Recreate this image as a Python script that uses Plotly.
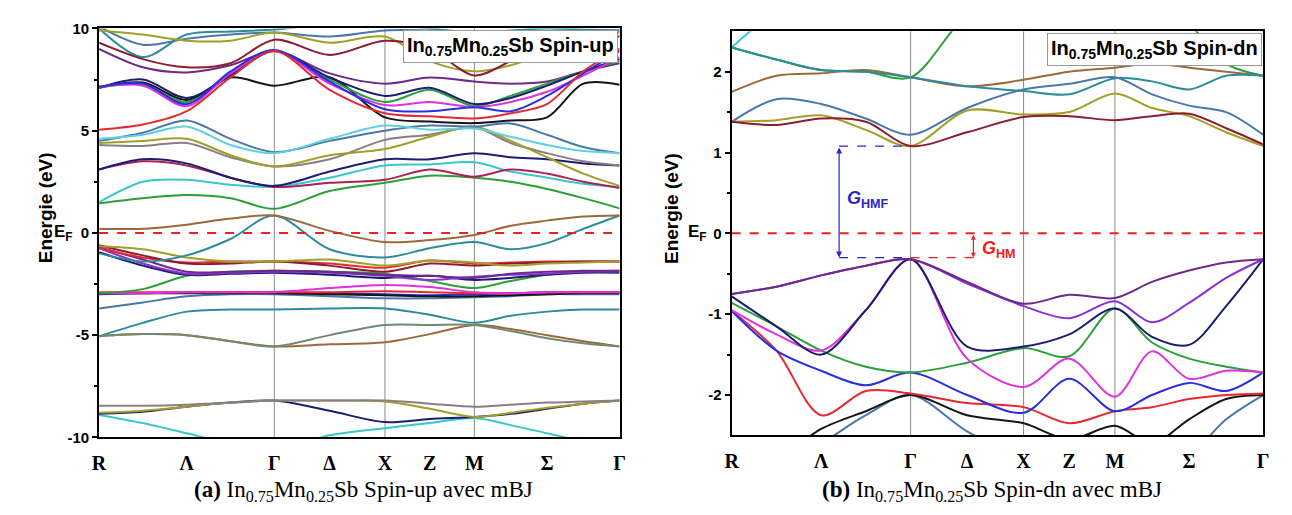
import plotly.graph_objects as go

# ---------------- k-path (R - Γ - X - M - Γ), simple cubic ----------------
k_high = [0.0, 0.866, 1.413, 1.855, 2.573]          # R, Γ, X, M, Γ
k_label_pos = [0.0, 0.433, 0.866, 1.1395, 1.413, 1.634, 1.855, 2.214, 2.573]
k_labels = ["R", "Λ", "Γ", "Δ", "X", "Z", "M", "Σ", "Γ"]
# sample points: R,q1,q2,q3,Γ,Δ,X,Z,M,s1,s2,s3,Γ
k_pts = [0.0, 0.2165, 0.433, 0.6495, 0.866, 1.1395, 1.413, 1.634, 1.855,
         2.0345, 2.214, 2.3935, 2.573]

# ---------------- Spin-up bands (eV) ----------------
up_low_cyan = [-8.9, -9.3, -9.8, -10.3, -10.6, -9.9, -9.55, -9.3, -9.05, -9.4, -9.8, -10.2, -10.6]
up_low_olive = [-8.8, -8.7, -8.5, -8.3, -8.2, -8.2, -8.25, -8.6, -9.0, -8.8, -8.55, -8.35, -8.2]
up_low_gray = [-8.45, -8.45, -8.4, -8.3, -8.2, -8.2, -8.2, -8.35, -8.5, -8.4, -8.3, -8.25, -8.2]
up_low_navy = [-8.85, -8.75, -8.5, -8.3, -8.2, -8.7, -9.25, -9.1, -9.0, -8.85, -8.6, -8.35, -8.2]
up_s_teal = [-5.05, -4.4, -3.85, -3.75, -3.75, -3.7, -3.7, -4.0, -4.4, -4.05, -3.85, -3.75, -3.75]
up_s_graygreen = [-5.05, -4.95, -5.0, -5.3, -5.55, -5.0, -4.5, -4.5, -4.5, -4.8, -5.15, -5.4, -5.55]
up_s_brown = [-5.05, -4.95, -5.0, -5.3, -5.55, -5.45, -5.35, -4.95, -4.5, -4.7, -5.0, -5.3, -5.55]
up_d_teal = [-3.7, -3.4, -3.1, -3.0, -3.0, -3.1, -3.2, -3.2, -3.15, -3.1, -3.0, -3.0, -3.0]
up_d_blue = [-3.0, -2.95, -2.9, -2.9, -2.9, -2.95, -3.0, -3.05, -3.0, -2.95, -2.9, -2.9, -2.9]
up_d_black = [-2.95, -2.95, -2.95, -2.95, -2.95, -3.0, -3.05, -3.1, -3.1, -3.05, -3.0, -2.95, -2.95]
up_d_red = [-2.9, -2.9, -2.9, -2.9, -2.9, -2.9, -2.85, -2.9, -2.95, -2.95, -2.9, -2.9, -2.9]
up_d_magenta = [-2.95, -2.95, -2.9, -2.9, -2.9, -2.7, -2.55, -2.65, -2.9, -2.95, -2.9, -2.9, -2.9]
up_d_green = [-2.95, -2.75, -2.1, -1.9, -1.85, -1.9, -2.0, -2.35, -2.7, -2.35, -2.05, -1.9, -1.85]
up_v_navy = [-0.95, -1.6, -2.05, -2.0, -1.95, -2.05, -2.2, -2.1, -2.3, -2.2, -2.05, -1.95, -1.95]
up_v_violet = [-0.75, -1.5, -2.0, -1.95, -1.9, -1.95, -2.1, -2.3, -2.15, -2.05, -2.0, -1.9, -1.9]
up_v_purple = [-0.7, -1.3, -1.9, -1.9, -1.85, -1.9, -2.05, -2.1, -2.2, -2.0, -1.9, -1.85, -1.85]
up_v_red = [-0.75, -1.2, -1.45, -1.4, -1.4, -1.5, -1.7, -1.35, -1.5, -1.45, -1.4, -1.4, -1.4]
up_v_maroon = [-0.6, -1.1, -1.5, -1.5, -1.4, -1.6, -1.9, -1.5, -1.6, -1.5, -1.45, -1.4, -1.4]
up_v_olive = [-0.65, -0.8, -1.2, -1.4, -1.4, -1.3, -1.6, -1.35, -1.45, -1.6, -1.5, -1.45, -1.4]
up_v_teal = [-1.0, -1.4, -1.1, -0.3, 0.85, -0.8, -1.2, -0.75, -0.45, -0.8, -0.5, 0.2, 0.85]
up_v_brown = [0.2, 0.2, 0.4, 0.7, 0.85, 0.1, -0.45, -0.35, -0.1, 0.35, 0.6, 0.8, 0.85]
up_c_green = [1.45, 1.7, 1.85, 1.7, 1.18, 2.05, 2.45, 2.8, 2.7, 2.5, 2.15, 1.7, 1.2]
up_c_cyan = [1.5, 2.5, 2.6, 2.35, 2.25, 2.7, 3.3, 3.35, 3.45, 3.0, 2.7, 2.4, 2.25]
up_c_crimson = [3.1, 3.5, 3.3, 2.7, 2.25, 2.45, 2.6, 3.1, 2.75, 3.1, 2.9, 2.5, 2.2]
up_c_navy = [3.1, 3.6, 3.4, 2.7, 2.3, 3.0, 3.6, 3.6, 3.9, 3.7, 3.6, 3.4, 3.3]
up_c_gray = [4.3, 4.25, 4.4, 3.7, 3.25, 3.6, 4.55, 4.8, 5.15, 4.4, 3.9, 3.5, 3.3]
up_c_olive = [4.4, 4.5, 4.6, 3.8, 3.25, 3.8, 4.1, 4.7, 5.2, 4.5, 3.7, 2.9, 2.3]
up_c_steel = [4.5, 4.9, 5.5, 4.6, 3.95, 4.5, 5.0, 5.25, 5.2, 5.35, 4.8, 4.2, 3.9]
up_c_lightcyan = [4.6, 4.8, 5.2, 4.3, 3.9, 4.6, 5.25, 5.05, 5.1, 4.7, 4.3, 4.0, 3.9]
up_c_red = [5.05, 5.3, 5.95, 7.6, 8.9, 7.0, 5.85, 5.7, 5.6, 5.85, 6.3, 7.9, 9.0]
up_c_black = [7.1, 7.35, 6.5, 7.6, 7.2, 7.6, 5.65, 5.45, 5.37, 5.5, 5.65, 7.3, 7.25]
up_c_green2 = [7.1, 7.25, 6.4, 7.7, 8.9, 7.5, 6.4, 7.0, 6.2, 6.7, 7.3, 7.9, 8.4]
up_c_magenta = [7.15, 7.2, 6.2, 7.8, 8.9, 7.3, 6.25, 6.4, 6.15, 6.4, 6.9, 7.7, 8.6]
up_c_navy2 = [7.1, 7.5, 6.6, 7.7, 8.9, 7.6, 6.7, 7.1, 6.3, 6.6, 7.2, 7.9, 8.5]
up_c_blue = [7.15, 7.3, 6.3, 7.9, 8.95, 7.4, 6.05, 5.95, 6.15, 5.95, 6.7, 7.8, 8.9]
up_c_purple = [9.0, 8.1, 7.85, 8.2, 8.9, 7.8, 7.3, 7.6, 7.4, 7.3, 7.4, 7.9, 8.3]
up_c_maroon = [9.3, 8.5, 8.1, 8.3, 9.45, 8.7, 9.4, 9.0, 7.7, 8.4, 9.2, 9.6, 9.6]
up_c_olive2 = [9.9, 9.7, 9.4, 9.4, 9.8, 9.3, 9.6, 8.4, 7.9, 8.2, 8.8, 9.4, 9.8]
up_c_teal1 = [10.0, 8.6, 9.7, 9.85, 9.95, 10.2, 10.2, 10.0, 9.8, 9.9, 10.0, 9.95, 9.9]
up_c_teal2 = [10.1, 9.2, 9.5, 9.7, 9.8, 9.6, 9.9, 9.9, 9.8, 9.7, 9.8, 9.9, 9.9]

# ---------------- Spin-down bands (eV) ----------------
dn_c_cyan = [2.3, 2.75, 3.0, 3.0, 3.0, 3.0, 3.0, 3.0, 3.0, 3.0, 3.0, 3.0, 3.0]
dn_c_green = [2.3, 2.15, 2.02, 2.0, 1.93, 2.7, 3.0, 3.0, 3.0, 3.0, 2.6, 2.1, 1.95]
dn_c_brown = [1.75, 1.95, 1.98, 2.02, 1.93, 1.82, 1.90, 2.0, 2.05, 2.1, 2.05, 2.0, 1.95]
dn_c_teal = [2.3, 2.15, 2.02, 2.0, 1.93, 1.82, 1.76, 1.72, 1.92, 1.88, 1.78, 1.95, 1.95]
dn_c_steel = [1.38, 1.66, 1.60, 1.42, 1.22, 1.55, 1.78, 1.85, 1.93, 1.72, 1.58, 1.50, 1.22]
dn_c_olive = [1.38, 1.40, 1.46, 1.28, 1.08, 1.52, 1.47, 1.50, 1.73, 1.55, 1.45, 1.25, 1.08]
dn_c_maroon = [1.38, 1.34, 1.42, 1.38, 1.08, 1.25, 1.44, 1.45, 1.40, 1.45, 1.48, 1.30, 1.10]
dn_v_steel = [-3.2, -2.9, -2.6, -2.25, -2.0, -2.45, -2.8, -3.0, -3.0, -2.9, -2.75, -2.3, -2.0]
dn_v_black = [-3.0, -2.8, -2.42, -2.2, -2.0, -2.25, -2.35, -2.55, -2.38, -2.6, -2.3, -2.05, -2.0]
dn_v_red = [-0.96, -1.45, -2.25, -1.95, -1.98, -2.10, -2.15, -2.35, -2.20, -2.15, -2.05, -2.00, -1.98]
dn_v_blue = [-0.96, -1.45, -1.70, -1.88, -1.72, -2.00, -2.22, -1.80, -2.20, -2.00, -1.85, -1.95, -1.72]
dn_v_green = [-0.86, -1.15, -1.45, -1.65, -1.72, -1.60, -1.42, -1.52, -0.93, -1.35, -1.55, -1.65, -1.72]
dn_v_magenta = [-0.95, -1.25, -1.45, -0.95, -0.32, -1.55, -1.90, -1.55, -2.02, -1.46, -1.80, -1.70, -1.72]
dn_v_navy = [-0.78, -1.15, -1.50, -0.95, -0.32, -1.40, -1.40, -1.25, -0.93, -1.28, -1.38, -0.90, -0.32]
dn_v_violet = [-0.75, -0.66, -0.52, -0.40, -0.32, -0.62, -0.90, -1.05, -0.84, -1.10, -0.86, -0.55, -0.32]
dn_v_purple = [-0.75, -0.66, -0.52, -0.40, -0.32, -0.60, -0.87, -0.76, -0.80, -0.60, -0.46, -0.36, -0.32]

# gap markers (eV)
E_F = 0.0
cbm_dn = 1.08
vbm_dn = -0.30
k_arrow_hmf = 0.52
k_arrow_hm = 1.17

C = dict(black="#151515", red="#e82830", blue="#2a30e0", green="#2aa038", magenta="#e030e0",
         olive="#a0a028", navy="#1c1c72", purple="#6e2a8a", maroon="#8c1c30", teal="#2a8c9c",
         gray="#8c7c88", cyan="#38c8cc", steel="#4a78a8", brown="#9c6a3a", violet="#8a30d8",
         crimson="#b02058", lightcyan="#60d0e0", graygreen="#708a70")

up_bands = [
    (up_low_cyan, "cyan"), (up_low_navy, "navy"), (up_low_olive, "olive"), (up_low_gray, "gray"),
    (up_s_teal, "teal"), (up_s_brown, "brown"), (up_s_graygreen, "graygreen"),
    (up_d_teal, "steel"), (up_d_blue, "blue"), (up_d_black, "black"), (up_d_red, "red"),
    (up_d_magenta, "magenta"), (up_d_green, "green"),
    (up_v_navy, "navy"), (up_v_violet, "violet"), (up_v_purple, "purple"), (up_v_red, "red"),
    (up_v_maroon, "maroon"), (up_v_olive, "olive"), (up_v_teal, "teal"), (up_v_brown, "brown"),
    (up_c_green, "green"), (up_c_cyan, "cyan"), (up_c_crimson, "crimson"), (up_c_navy, "navy"),
    (up_c_gray, "gray"), (up_c_olive, "olive"), (up_c_steel, "steel"), (up_c_lightcyan, "lightcyan"),
    (up_c_teal1, "teal"), (up_c_teal2, "steel"), (up_c_olive2, "olive"),
    (up_c_purple, "purple"), (up_c_maroon, "maroon"), (up_c_black, "black"),
    (up_c_green2, "green"), (up_c_navy2, "navy"), (up_c_magenta, "magenta"),
    (up_c_blue, "blue"), (up_c_red, "red"),
]
dn_bands = [
    (dn_c_cyan, "cyan"), (dn_c_green, "green"), (dn_c_brown, "brown"), (dn_c_teal, "teal"),
    (dn_c_steel, "steel"), (dn_c_olive, "olive"), (dn_c_maroon, "maroon"),
    (dn_v_steel, "steel"), (dn_v_black, "black"), (dn_v_red, "red"), (dn_v_blue, "blue"),
    (dn_v_green, "green"), (dn_v_magenta, "magenta"), (dn_v_navy, "navy"),
    (dn_v_violet, "violet"), (dn_v_purple, "purple"),
]

fig = go.Figure()

for vals, col in up_bands:
    fig.add_trace(go.Scatter(x=k_pts, y=vals, mode="lines", xaxis="x", yaxis="y",
                             line=dict(color=C[col], width=2, shape="spline", smoothing=0.9),
                             hoverinfo="skip"))
for vals, col in dn_bands:
    fig.add_trace(go.Scatter(x=k_pts, y=vals, mode="lines", xaxis="x2", yaxis="y2",
                             line=dict(color=C[col], width=2, shape="spline", smoothing=0.9),
                             hoverinfo="skip"))

# Fermi level
for xa, ya in (("x", "y"), ("x2", "y2")):
    fig.add_trace(go.Scatter(x=[k_high[0], k_high[-1]], y=[E_F, E_F], mode="lines",
                             xaxis=xa, yaxis=ya, hoverinfo="skip",
                             line=dict(color="#f02020", width=2, dash="dash")))

# gap guide lines (spin-dn)
fig.add_trace(go.Scatter(x=[k_arrow_hmf, k_high[1]], y=[cbm_dn, cbm_dn], mode="lines",
                         xaxis="x2", yaxis="y2", hoverinfo="skip",
                         line=dict(color="#2828c8", width=1.2, dash="dash")))
fig.add_trace(go.Scatter(x=[k_arrow_hmf, k_high[1]], y=[vbm_dn, vbm_dn], mode="lines",
                         xaxis="x2", yaxis="y2", hoverinfo="skip",
                         line=dict(color="#2828c8", width=1.2, dash="dash")))
fig.add_trace(go.Scatter(x=[k_high[1], k_arrow_hm], y=[vbm_dn, vbm_dn], mode="lines",
                         xaxis="x2", yaxis="y2", hoverinfo="skip",
                         line=dict(color="#f02020", width=1.2, dash="dash")))

# high-symmetry vertical lines
shapes = []
for xr, yr in (("x", "y domain"), ("x2", "y2 domain")):
    for kx in k_high[1:-1]:
        shapes.append(dict(type="line", xref=xr, yref=yr, x0=kx, x1=kx, y0=0, y1=1,
                           line=dict(color="#8a8a8a", width=1), layer="below"))

tick_b = lambda v: [f"<b>{t}</b>" for t in v]
xaxis_common = dict(range=[k_high[0], k_high[-1]], tickvals=k_label_pos, ticktext=tick_b(k_labels),
                    ticks="", showgrid=False, zeroline=False, showline=True, mirror=True,
                    linewidth=2, linecolor="black", ticklabelstandoff=7,
                    tickfont=dict(family="Liberation Serif", size=20, color="black"))
yaxis_common = dict(showgrid=False, zeroline=False, showline=True, mirror=True, linewidth=2,
                    linecolor="black", ticks="outside", ticklen=5, tickwidth=1.5, tickcolor="black",
                    tickfont=dict(family="Liberation Sans", size=15, color="black"))

up_yticks = [-10, -5, 0, 5, 10]
dn_yticks = [-2, -1, 0, 1, 2]

fig.update_layout(
    width=1292, height=515, margin=dict(l=0, r=0, t=0, b=0), autosize=False,
    paper_bgcolor="white", plot_bgcolor="white", showlegend=False,
    xaxis=dict(domain=[0.072, 0.479], anchor="y", **xaxis_common),
    yaxis=dict(domain=[0.1398, 0.961], anchor="x", range=[-10, 10],
               tickvals=up_yticks, ticktext=tick_b(up_yticks),
               minor=dict(tickvals=[-7.5, -2.5, 2.5, 7.5], ticks="outside", ticklen=3,
                          tickcolor="black"),
               **yaxis_common),
    xaxis2=dict(domain=[0.5666, 0.9822], anchor="y2", **xaxis_common),
    yaxis2=dict(domain=[0.1437, 0.9553], anchor="x2", range=[-2.5, 2.5],
                tickvals=dn_yticks, ticktext=tick_b(dn_yticks),
                minor=dict(tickvals=[-1.5, -0.5, 0.5, 1.5], ticks="outside", ticklen=3,
                           tickcolor="black"),
                **yaxis_common),
    shapes=shapes,
)

ann = []
lab_font = dict(family="Liberation Sans", size=20, color="black")
ann.append(dict(xref="x domain", yref="y domain", x=0.997, y=0.995, xanchor="right", yanchor="top",
                text="<b>In<sub>0.75</sub>Mn<sub>0.25</sub>Sb Spin-up</b>", showarrow=False,
                font=lab_font, bgcolor="white", bordercolor="#999999", borderwidth=1, borderpad=3))
ann.append(dict(xref="x2 domain", yref="y2 domain", x=0.997, y=0.995, xanchor="right", yanchor="top",
                text="<b>In<sub>0.75</sub>Mn<sub>0.25</sub>Sb Spin-dn</b>", showarrow=False,
                font=lab_font, bgcolor="white", bordercolor="#999999", borderwidth=1, borderpad=3))
# y titles
for xp in (0.020, 0.519):
    ann.append(dict(xref="paper", yref="paper", x=xp, y=0.60, text="<b>Energie (eV)</b>",
                    textangle=-90, showarrow=False,
                    font=dict(family="Liberation Sans", size=19, color="black")))
# E_F labels
ann.append(dict(xref="paper", yref="y", x=0.053, y=E_F, xanchor="right", yanchor="middle",
                text="<b>E<sub>F</sub></b>", showarrow=False,
                font=dict(family="Liberation Sans", size=17, color="black")))
ann.append(dict(xref="paper", yref="y2", x=0.549, y=E_F, xanchor="right", yanchor="middle",
                text="<b>E<sub>F</sub></b>", showarrow=False,
                font=dict(family="Liberation Sans", size=17, color="black")))
# captions
ann.append(dict(xref="paper", yref="paper", x=0.279, y=0.033, xanchor="center", yanchor="middle",
                text="<b>(a)</b> In<sub>0.75</sub>Mn<sub>0.25</sub>Sb Spin-up avec mBJ", showarrow=False,
                font=dict(family="Liberation Serif", size=23, color="black")))
ann.append(dict(xref="paper", yref="paper", x=0.770, y=0.033, xanchor="center", yanchor="middle",
                text="<b>(b)</b> In<sub>0.75</sub>Mn<sub>0.25</sub>Sb Spin-dn avec mBJ", showarrow=False,
                font=dict(family="Liberation Serif", size=23, color="black")))
# gap arrows
ann.append(dict(xref="x2", yref="y2", axref="x2", ayref="y2", x=k_arrow_hmf, y=vbm_dn,
                ax=k_arrow_hmf, ay=cbm_dn, showarrow=True, arrowhead=2, startarrowhead=2,
                arrowside="end+start", arrowsize=1, arrowwidth=1.2, arrowcolor="#2828c8", text=""))
ann.append(dict(xref="x2", yref="y2", axref="x2", ayref="y2", x=k_arrow_hm, y=vbm_dn,
                ax=k_arrow_hm, ay=E_F, showarrow=True, arrowhead=2, startarrowhead=2,
                arrowside="end+start", arrowsize=0.8, arrowwidth=1.2, arrowcolor="#f02020", text=""))
ann.append(dict(xref="x2", yref="y2", x=k_arrow_hmf + 0.03, y=0.42, xanchor="left",
                text="<b><i>G</i><sub>HMF</sub></b>", showarrow=False,
                font=dict(family="Liberation Sans", size=18, color="#2828c8")))
ann.append(dict(xref="x2", yref="y2", x=k_arrow_hm + 0.03, y=-0.2, xanchor="left",
                text="<b><i>G</i><sub>HM</sub></b>", showarrow=False,
                font=dict(family="Liberation Sans", size=18, color="#f02020")))
fig.update_layout(annotations=ann)

fig.write_html("out.html")
